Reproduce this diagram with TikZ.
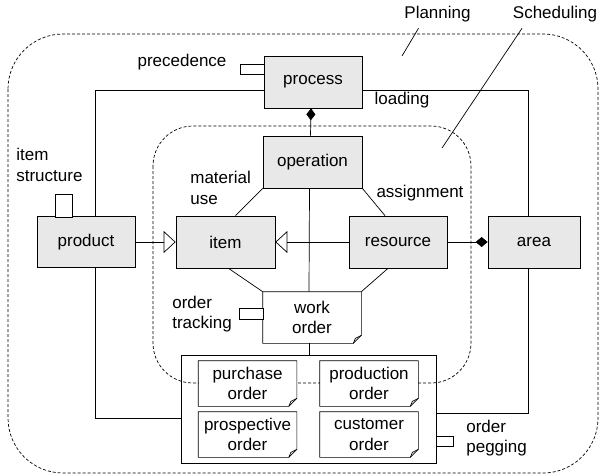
\documentclass[tikz,border=0pt]{standalone}
\usepackage{fontspec}
\setmainfont{Liberation Sans}
\usetikzlibrary{calc,arrows.meta,positioning}

\begin{document}
\begin{tikzpicture}[x=1pt,y=-1pt, line width=0.7pt,
    every node/.style={font=\fontsize{17}{20.5}\selectfont},
    cls/.style={draw, rectangle, fill=gray!18, inner sep=0pt, minimum width=98pt, minimum height=52pt, align=center},
    note/.style={rectangle, fill=white, inner sep=0pt, minimum width=98pt, minimum height=45pt, align=center},
    stub/.style={draw, rectangle, fill=white, inner sep=0pt},
    lbl/.style={inner sep=0pt, align=left},
    region/.style={dash pattern=on 3pt off 2pt, rounded corners=#1},
    gen/.style={-{Triangle[open,length=12pt,width=22pt]}},
    agg/.style={-{Diamond[length=12pt,width=10pt]}}]
    \useasboundingbox (0,0) rectangle (601,475);
    % dashed regions
    \draw[region=55pt] (8,34) rectangle (598,473);
    \draw[region=40pt] (153,126) rectangle (471,383);
    \node[lbl] (plan) at (437.5,14) {Planning};
    \node[lbl] (sched) at (555,14) {Scheduling};
    \coordinate (planpt) at (402,56);
    \coordinate (schedpt) at (442,148);
    \draw ([xshift=-19pt,yshift=-6pt]plan.south) -- (planpt);
    \draw ([xshift=-33pt,yshift=-6pt]sched.south) -- (schedpt);
    % classes
    \node[cls] (proc) at (313,82) {process};
    \node[cls, minimum width=99pt] (oper) at (312.5,162) {operation};
    \node[cls, minimum width=99pt] (item) at (225.5,242) {item};
    \node[cls] (res) at (398,242) {resource};
    \node[cls, minimum height=51pt] (prod) at (86,242) {product};
    \node[cls, minimum width=92pt] (area) at (534,242) {area};
    % orders
    \node[draw, rectangle, inner sep=0pt, minimum width=255pt, minimum height=108pt] (grp) at (308.5,409) {};
    \node[note, minimum height=51pt] (wo) at (312,317.5) {work\\order};
    \node[note] (po) at (247.5,383.5) {purchase\\order};
    \node[note] (pd) at (369,383.5) {production\\order};
    \node[note] (ps) at (247.5,434.5) {prospective\\order};
    \node[note] (co) at (369,434.5) {customer\\order};
    \foreach \n in {wo,po,pd,ps,co} {
        \draw ($(\n.south east)+(0,-8)$) -- (\n.north east) -- (\n.north west) -- (\n.south west) -- ($(\n.south east)+(-8,0)$) -- cycle;
        \draw ($(\n.south east)+(-8,0)$) -- ($(\n.south east)+(-6,-5)$) -- ($(\n.south east)+(0,-8)$);
    }
    % stubs
    \node[stub, minimum width=24pt, minimum height=10pt] (precstub) at (252,69.5) {};
    \node[stub, minimum width=17pt, minimum height=23pt] (itemstub) at (63.5,205.5) {};
    \node[stub, minimum width=24pt, minimum height=11pt] (trackstub) at (251,314) {};
    \node[stub, minimum width=17pt, minimum height=10pt] (pegstub) at (444.5,441) {};
    % associations
    \draw ([yshift=-8pt]proc.west) -| ([xshift=9pt]prod.north);
    \draw ([yshift=-8pt]proc.east) -| ([xshift=-6pt]area.north);
    \draw ([xshift=9pt]prod.south) |- ([yshift=-9pt]grp.west);
    \draw ([xshift=-6pt]area.south) |- ([yshift=-4pt]grp.east);
    \draw ([xshift=-3pt]oper.south) -- ([xshift=-3pt]wo.north);
    \draw ([xshift=-3pt]wo.south) -- ([xshift=-3pt]wo.south |- grp.north);
    \draw (oper.south west) -- ([xshift=10pt]item.north);
    \draw (oper.south east) -- ([xshift=-13pt]res.north);
    \draw ([xshift=3pt]item.south) -- (wo.north west);
    \draw ([xshift=-10pt]res.south) -- (wo.north east);
    \draw[gen] (prod) -- (item);
    \draw[gen] (res) -- (item);
    \draw[agg] (res) -- (area);
    \draw[-{Diamond[length=12pt,width=9pt]}] ([xshift=-2pt]oper.north) -- ([xshift=-2pt]proc.south);
    % labels
    \node[lbl] (preclbl) at (182,62) {precedence};
    \node[lbl] (loadlbl) at (402,100) {loading};
    \node[lbl, anchor=west] (itemlbl) at (16,165) {item\\structure};
    \node[lbl, anchor=west] (matlbl) at (190,188) {material\\use};
    \node[lbl] (asslbl) at (420,193) {assignment};
    \node[lbl, anchor=west] (tracklbl) at (172,314) {order\\tracking};
    \node[lbl, anchor=west] (peglbl) at (466,438) {order\\pegging};
\end{tikzpicture}
\end{document}
